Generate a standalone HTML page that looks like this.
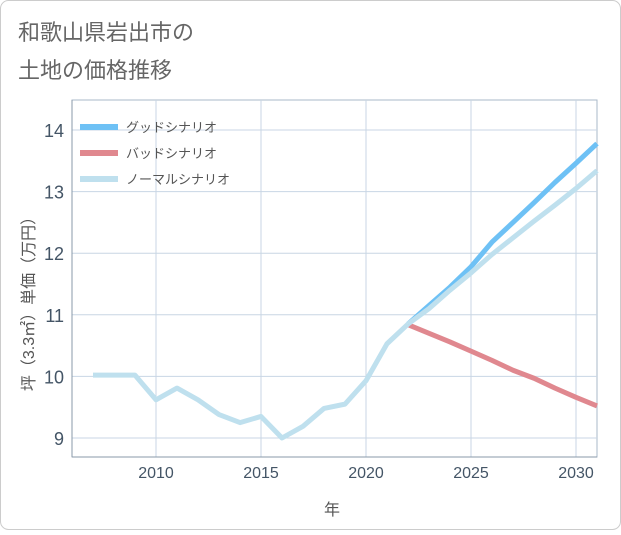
<!DOCTYPE html>
<html><head><meta charset="utf-8"><style>
body{margin:0;background:#fff}
#wrap{position:relative;width:621px;height:530px;font-family:"Liberation Sans","Noto Sans CJK JP",sans-serif}
svg text{font-family:"Liberation Sans","Noto Sans CJK JP",sans-serif}
</style></head><body>
<div id="wrap">
<svg id="chart" width="621" height="530">
<rect x="0.5" y="0.5" width="620" height="529" rx="8" fill="#fff" stroke="#ccc"/>
<text x="18" y="40" font-size="22" fill="#666">和歌山県岩出市の</text>
<text x="18" y="78" font-size="22" fill="#666">土地の価格推移</text>
<g id="grid"></g>
<g id="axes"></g>
<g id="series"></g>
<g id="legend"></g>
<text x="332" y="515" font-size="16" fill="#555" text-anchor="middle">年</text>
<text transform="translate(34,300) rotate(-90)" font-size="16" fill="#555" text-anchor="middle">坪（3.3㎡）単価（万円）</text>
</svg>
</div>
<script>
const histYears=[2007,2008,2009,2010,2011,2012,2013,2014,2015,2016,2017,2018,2019,2020,2021,2022];
const histValues=[10.02,10.02,10.02,9.62,9.81,9.62,9.38,9.25,9.35,9.0,9.19,9.48,9.55,9.93,10.53,10.85];
const futYears=[2022,2023,2024,2025,2026,2027,2028,2029,2030,2031];
const goodValues=[10.85,11.15,11.45,11.78,12.18,12.5,12.82,13.15,13.46,13.78];
const badValues=[10.84,10.7,10.56,10.41,10.26,10.1,9.97,9.81,9.66,9.52];
const normalValues=[10.85,11.1,11.4,11.68,11.98,12.25,12.52,12.78,13.05,13.34];
const xTicks=[2010,2015,2020,2025,2030];
const yTicks=[9,10,11,12,13,14];
const legendLabels=["グッドシナリオ","バッドシナリオ","ノーマルシナリオ"];
const L=72,R=597,T=100,B=457;
const xs=y=>156+(y-2010)*21;
const ys=v=>438-(v-9)*61.6;
const NS="http://www.w3.org/2000/svg";
function mk(tag,attrs,parent){const e=document.createElementNS(NS,tag);for(const k in attrs)e.setAttribute(k,attrs[k]);parent.appendChild(e);return e;}
const grid=document.getElementById('grid'),axes=document.getElementById('axes'),ser=document.getElementById('series'),leg=document.getElementById('legend');
mk('rect',{x:L,y:T,width:R-L,height:B-T,fill:'none',stroke:'#aab8c8'},grid);
yTicks.forEach(v=>{
 const l=mk('line',{x1:L,x2:R,y1:ys(v),y2:ys(v),stroke:'#c8d6e4'},grid);
 
 
 const t=mk('text',{x:L-8,y:ys(v)+7,'font-size':18,fill:'#456','text-anchor':'end'},axes);
 t.textContent=v;
 
 
});
xTicks.forEach(y=>{
 const l=mk('line',{x1:xs(y),x2:xs(y),y1:T,y2:B,stroke:'#c8d6e4'},grid);
 
 
 const t=mk('text',{x:xs(y),y:B+21,'font-size':16,fill:'#456','text-anchor':'middle'},axes);
 t.textContent=y;
 
 
});
mk('line',{x1:L,x2:L,y1:T,y2:B,stroke:'#8899aa'},axes);
mk('line',{x1:L,x2:R,y1:B,y2:B,stroke:'#8899aa'},axes);
function line(xa,va,color,name){
 const p=mk('polyline',{points:xa.map((x,i)=>xs(x)+','+ys(va[i])).join(' '),fill:'none',stroke:color,'stroke-width':5,'stroke-linejoin':'round'},ser);
 
 
}
line(futYears,badValues,'#e0888f','bad-scenario-line');
line(futYears,goodValues,'#6ec1f5','good-scenario-line');
line(futYears,normalValues,'#bfe0ee','normal-scenario-line');
line(histYears,histValues,'#bfe0ee','historical-line');
const lc=['#6ec1f5','#e0888f','#bfe0ee'];
legendLabels.forEach((s,i)=>{
 const y=127+i*26;
 const l=mk('line',{x1:80,x2:118,y1:y,y2:y,stroke:lc[i],'stroke-width':6},leg);
 
 
 const t=mk('text',{x:126,y:y+5,'font-size':13,fill:'#555'},leg);
 t.textContent=s;
 
 
});
</script>
</body></html>
